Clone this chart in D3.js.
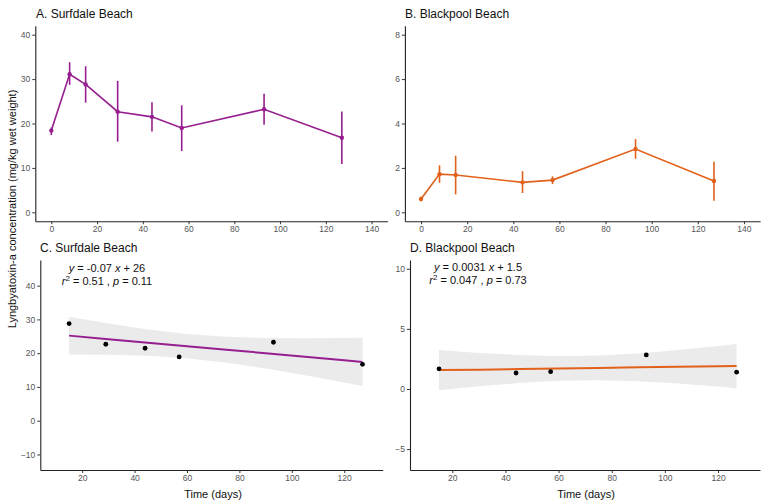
<!DOCTYPE html>
<html>
<head>
<meta charset="utf-8">
<script src="https://cdn.jsdelivr.net/npm/d3@7"></script>
<style>
  body { margin: 0; background: #fff; }
  svg { font-family: "Liberation Sans", Arial, sans-serif; }
  .tick text { fill: #555; font-size: 8.5px; }
  .tick line { stroke: #333; }
  .domain { stroke: #222; stroke-width: 1.1; }
</style>
</head>
<body>
<svg id="chart" width="768" height="504"></svg>
<script>
// sampling days
const daysSurfdale = [0, 8, 15, 29, 44, 57, 93, 127]
const meanSurfdale = [18.4, 31.1, 28.8, 22.65, 21.5, 19.0, 23.2, 16.8]
const lowSurfdale = [17.4, 28.7, 24.7, 15.9, 18.2, 13.8, 19.7, 10.9]
const highSurfdale = [19.1, 33.8, 32.9, 29.6, 24.8, 24.1, 26.7, 22.7]

const daysBlackpool = [0, 8, 15, 44, 57, 93, 127]
const meanBlackpool = [0.6, 1.72, 1.68, 1.35, 1.45, 2.85, 1.41]
const lowBlackpool = [0.5, 1.33, 0.81, 0.87, 1.27, 2.41, 0.52]
const highBlackpool = [0.7, 2.12, 2.55, 1.85, 1.62, 3.3, 2.28]

// regression panels: points used in the fit
const fitDaysSurfdale = [15, 29, 44, 57, 93, 127]
const fitMeanSurfdale = [28.76, 22.65, 21.46, 18.9, 23.24, 16.7]
const fitDaysBlackpool = [15, 44, 57, 93, 127]
const fitMeanBlackpool = [1.68, 1.33, 1.44, 2.83, 1.4]

// fitted line and confidence band
const bandDays = [15, 30, 45, 60, 75, 90, 105, 120, 127]
const lineSurfdale = [25.2, 24.16, 23.12, 22.07, 21.03, 19.99, 18.94, 17.9, 17.41]
const bandLowSurfdale = [19.6, 19.55, 19.23, 18.48, 17.2, 15.47, 13.46, 11.29, 10.25]
const bandHighSurfdale = [30.8, 28.77, 27.0, 25.66, 24.86, 24.51, 24.42, 24.51, 24.57]
const lineBlackpool = [1.57, 1.61, 1.66, 1.71, 1.75, 1.8, 1.85, 1.89, 1.91]
const bandLowBlackpool = [-0.11, 0.22, 0.5, 0.68, 0.73, 0.64, 0.45, 0.2, 0.07]
const bandHighBlackpool = [3.25, 3.0, 2.82, 2.73, 2.78, 2.96, 3.25, 3.58, 3.75]

const xTicksTop = [0, 20, 40, 60, 80, 100, 120, 140]
const xTicksBottom = [20, 40, 60, 80, 100, 120]
const yTicksA = [0, 10, 20, 30, 40]
const yTicksB = [0, 2, 4, 6, 8]
const yTicksC = [-10, 0, 10, 20, 30, 40]
const yTicksD = [-5, 0, 5, 10]

const purple = "#961e8e"
const orange = "#e2611a"

const svg = d3.select("#chart")

function drawAxes(x, y, xTicks, yTicks) {
  const xr = x.range(), yr = y.range()
  svg.append("g")
    .attr("transform", `translate(0,${yr[0]})`)
    .call(d3.axisBottom(x).tickValues(xTicks).tickSize(3).tickSizeOuter(0).tickPadding(2))
  svg.append("g")
    .attr("transform", `translate(${xr[0]},0)`)
    .call(d3.axisLeft(y).tickValues(yTicks).tickSize(3).tickSizeOuter(0).tickPadding(2))
}

function title(txt, xp, yp) {
  svg.append("text").attr("x", xp).attr("y", yp)
    .attr("font-size", 12).attr("fill", "#111").text(txt)
}

function timeSeries(days, mean, low, high, x, y, color) {
  svg.append("g").selectAll("line").data(days).enter().append("line")
    .attr("x1", d => x(d)).attr("x2", d => x(d))
    .attr("y1", (d, i) => y(low[i])).attr("y2", (d, i) => y(high[i]))
    .attr("stroke", color).attr("stroke-width", 1.6)
  svg.append("path")
    .datum(days)
    .attr("fill", "none").attr("stroke", color).attr("stroke-width", 1.6)
    .attr("d", d3.line().x(d => x(d)).y((d, i) => y(mean[i])))
  svg.append("g").selectAll("circle").data(days).enter().append("circle")
    .attr("cx", d => x(d)).attr("cy", (d, i) => y(mean[i]))
    .attr("r", 2.2).attr("fill", color)
}

function regression(days, mean, line, lo, hi, x, y, color) {
  svg.append("path").datum(bandDays)
    .attr("fill", "#ebebeb")
    .attr("d", d3.area().x(d => x(d)).y0((d, i) => y(lo[i])).y1((d, i) => y(hi[i])))
  svg.append("path").datum(bandDays)
    .attr("fill", "none").attr("stroke", color).attr("stroke-width", 2)
    .attr("d", d3.line().x(d => x(d)).y((d, i) => y(line[i])))
  svg.append("g").selectAll("circle").data(days).enter().append("circle")
    .attr("cx", d => x(d)).attr("cy", (d, i) => y(mean[i]))
    .attr("r", 2.4).attr("fill", "#000")
}

function equation(cx, y1, slope, intercept, r2, p) {
  const t1 = svg.append("text").attr("x", cx).attr("y", y1)
    .attr("text-anchor", "middle").attr("font-size", 11).attr("fill", "#111")
  t1.append("tspan").attr("font-style", "italic").text("y")
  t1.append("tspan").text(" = " + slope + " ")
  t1.append("tspan").attr("font-style", "italic").text("x")
  t1.append("tspan").text(" + " + intercept)
  const t2 = svg.append("text").attr("x", cx).attr("y", y1 + 13)
    .attr("text-anchor", "middle").attr("font-size", 11).attr("fill", "#111")
  t2.append("tspan").attr("font-style", "italic").text("r")
  t2.append("tspan").attr("font-size", 8).attr("dy", -4).text("2")
  t2.append("tspan").attr("dy", 4).text(" = " + r2 + " ,  ")
  t2.append("tspan").attr("font-style", "italic").text("p")
  t2.append("tspan").text(" = " + p)
}

// A
const xA = d3.scaleLinear().domain([-7, 147]).range([35.3, 387.6])
const yA = d3.scaleLinear().domain([-2, 42]).range([221.2, 25.8])
drawAxes(xA, yA, xTicksTop, yTicksA)
timeSeries(daysSurfdale, meanSurfdale, lowSurfdale, highSurfdale, xA, yA, purple)
title("A. Surfdale Beach", 36, 18)

// B
const xB = d3.scaleLinear().domain([-7, 147]).range([404.9, 760.1])
const yB = d3.scaleLinear().domain([-0.4, 8.4]).range([221.2, 25.8])
drawAxes(xB, yB, xTicksTop, yTicksB)
timeSeries(daysBlackpool, meanBlackpool, lowBlackpool, highBlackpool, xB, yB, orange)
title("B. Blackpool Beach", 405, 18)

// C
const xC = d3.scaleLinear().domain([4, 134.7]).range([40.3, 382.7])
const yC = d3.scaleLinear().domain([-14.6, 47.6]).range([470, 260])
regression(fitDaysSurfdale, fitMeanSurfdale, lineSurfdale, bandLowSurfdale, bandHighSurfdale, xC, yC, purple)
drawAxes(xC, yC, xTicksBottom, yTicksC)
title("C. Surfdale Beach", 40, 252)
equation(107, 272, "-0.07", "26", "0.51", "0.11")

// D
const xD = d3.scaleLinear().domain([4.08, 135.8]).range([410, 760])
const yD = d3.scaleLinear().domain([-6.74, 10.73]).range([470, 260])
regression(fitDaysBlackpool, fitMeanBlackpool, lineBlackpool, bandLowBlackpool, bandHighBlackpool, xD, yD, orange)
drawAxes(xD, yD, xTicksBottom, yTicksD)
title("D. Blackpool Beach", 410, 252)
equation(478, 271, "0.0031", "1.5", "0.047", "0.73")

// axis titles
svg.append("text").attr("transform", "translate(16,209) rotate(-90)")
  .attr("text-anchor", "middle").attr("font-size", 11).attr("fill", "#111")
  .text("Lyngbyatoxin-a concentration (mg/kg wet weight)")
svg.append("text").attr("x", 213).attr("y", 498).attr("text-anchor", "middle")
  .attr("font-size", 11).attr("fill", "#111").text("Time (days)")
svg.append("text").attr("x", 586).attr("y", 498).attr("text-anchor", "middle")
  .attr("font-size", 11).attr("fill", "#111").text("Time (days)")
</script>
</body>
</html>
